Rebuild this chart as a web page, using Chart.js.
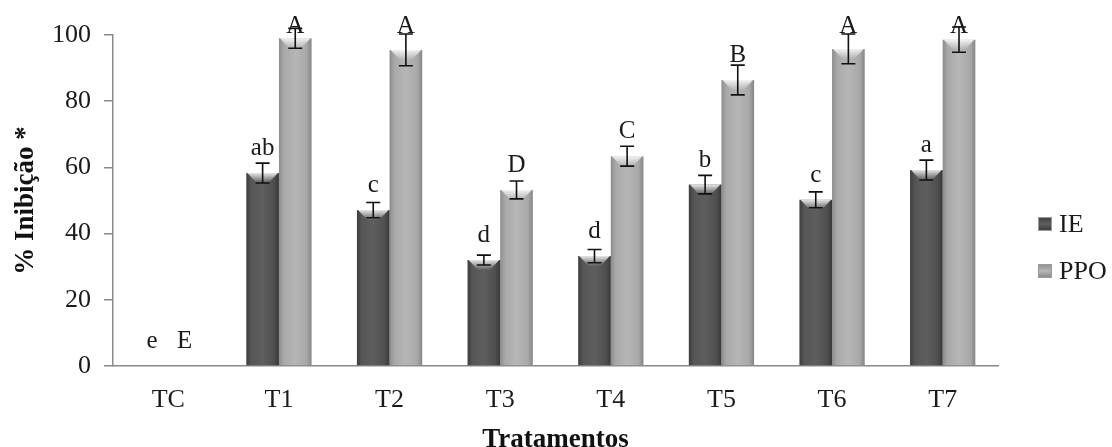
<!DOCTYPE html>
<html>
<head>
<meta charset="utf-8">
<script src="https://cdn.jsdelivr.net/npm/chart.js@4.4.1/dist/chart.umd.min.js"></script>
<style>
  html, body { margin: 0; padding: 0; background: #ffffff; }
  #wrap { width: 1112px; height: 447px; }
</style>
</head>
<body>
<div id="wrap"><canvas id="c" width="1112" height="447"></canvas></div>
<script>
// ---- data ----
const categories = ['TC', 'T1', 'T2', 'T3', 'T4', 'T5', 'T6', 'T7'];
const ieValues  = [0, 58.3, 47.1, 32.0, 33.2, 54.8, 50.2, 59.2];
const ieErrors  = [0, 3.0, 2.3, 1.5, 2.0, 2.8, 2.4, 3.0];
const ieLetters = ['e', 'ab', 'c', 'd', 'd', 'b', 'c', 'a'];
const ppoValues  = [0, 99.0, 95.5, 53.2, 63.4, 86.4, 95.8, 98.6];
const ppoErrors  = [0, 3.0, 4.8, 2.7, 3.0, 4.5, 4.5, 3.8];
const ppoLetters = ['E', 'A', 'A', 'D', 'C', 'B', 'A', 'A'];
const yTicks = [0, 20, 40, 60, 80, 100];
const seriesNames = ['IE', 'PPO'];
const xTitle = 'Tratamentos';
const yTitle = '% Inibição *';

const SERIF = '"Liberation Serif", "DejaVu Serif", serif';
const CAT_PCT = 0.59;
const palettes = [
  ['#3d3d3d', '#565656', '#5e5e5e', '#4f4f4f', '#383838'],
  ['#8c8c8c', '#a9a9a9', '#b6b6b6', '#a8a8a8', '#858585']
];

function barFill(ctx) {
  const chart = ctx.chart;
  const area = chart.chartArea;
  const pal = palettes[ctx.datasetIndex];
  if (!area || ctx.type !== 'data') return pal[2];
  const xs = chart.scales.x;
  const catW = (area.right - area.left) / categories.length;
  const barW = catW * CAT_PCT / 2;
  const center = xs.getPixelForValue(ctx.dataIndex);
  const x0 = center - catW * CAT_PCT / 2 + ctx.datasetIndex * barW;
  const g = chart.ctx.createLinearGradient(x0, 0, x0 + barW, 0);
  g.addColorStop(0, pal[0]);
  g.addColorStop(0.15, pal[1]);
  g.addColorStop(0.5, pal[2]);
  g.addColorStop(0.85, pal[3]);
  g.addColorStop(1, pal[4]);
  return g;
}

const errorBarsPlugin = {
  id: 'errorBarsLetters',
  afterDatasetsDraw(chart) {
    const c = chart.ctx;
    const ys = chart.scales.y;
    const errs = [ieErrors, ppoErrors];
    const letters = [ieLetters, ppoLetters];
    chart.data.datasets.forEach((ds, di) => {
      const meta = chart.getDatasetMeta(di);
      meta.data.forEach((bar, i) => {
        const v = ds.data[i];
        const e = errs[di][i];
        if (v > 0) {
          const top = ys.getPixelForValue(v);
          const w = bar.width;
          const l = bar.x - w / 2;
          c.save();
          const hg = c.createLinearGradient(0, top, 0, top + 10);
          hg.addColorStop(0, 'rgba(255,255,255,0.85)');
          hg.addColorStop(1, 'rgba(255,255,255,0)');
          c.fillStyle = hg;
          c.beginPath();
          c.moveTo(l + 1, top);
          c.lineTo(l + w - 1, top);
          c.lineTo(bar.x + w * 0.18, top + 10);
          c.lineTo(bar.x - w * 0.18, top + 10);
          c.closePath();
          c.fill();
          c.restore();
        }
        if (e > 0) {
          const yHi = ys.getPixelForValue(v + e);
          const yLo = ys.getPixelForValue(v - e);
          c.save();
          c.strokeStyle = '#111';
          c.lineWidth = 1.6;
          c.beginPath();
          c.moveTo(bar.x, yHi); c.lineTo(bar.x, yLo);
          c.moveTo(bar.x - 7, yHi); c.lineTo(bar.x + 7, yHi);
          c.moveTo(bar.x - 7, yLo); c.lineTo(bar.x + 7, yLo);
          c.stroke();
          c.restore();
        }
        const base = Math.max(ys.getPixelForValue(v) - 18, 33);
        c.save();
        c.fillStyle = '#1a1a1a';
        c.font = '25px ' + SERIF;
        c.textAlign = 'center';
        c.textBaseline = 'alphabetic';
        c.fillText(letters[di][i], bar.x, base);
        c.restore();
      });
    });
  }
};

const legendPlugin = {
  id: 'sideLegend',
  afterDraw(chart) {
    const c = chart.ctx;
    const area = chart.chartArea;
    const x = area.right + 40;
    const yCenter = (area.top + area.bottom) / 2 + 47;
    const gap = 47;
    chart.data.datasets.forEach((ds, di) => {
      const y = yCenter - gap / 2 + di * gap;
      const pal = palettes[di];
      c.save();
      const g = c.createLinearGradient(x, y - 7, x, y + 7);
      g.addColorStop(0, pal[0]);
      g.addColorStop(0.5, pal[2]);
      g.addColorStop(1, pal[4]);
      c.fillStyle = g;
      c.fillRect(x, y - 7, 14, 14);
      c.strokeStyle = '#9a9a9a';
      c.lineWidth = 1;
      c.strokeRect(x + 0.5, y - 6.5, 13, 13);
      c.fillStyle = '#1a1a1a';
      c.font = '26px ' + SERIF;
      c.textAlign = 'left';
      c.textBaseline = 'middle';
      c.fillText(ds.label, x + 21, y + 1);
      c.restore();
    });
  }
};

new Chart(document.getElementById('c'), {
  type: 'bar',
  data: {
    labels: categories,
    datasets: [
      { label: seriesNames[0], data: ieValues, backgroundColor: barFill, borderWidth: 0 },
      { label: seriesNames[1], data: ppoValues, backgroundColor: barFill, borderWidth: 0 }
    ]
  },
  options: {
    responsive: false,
    animation: false,
    events: [],
    layout: { padding: { left: 0, top: 35, right: 114, bottom: 0 } },
    datasets: { bar: { categoryPercentage: CAT_PCT, barPercentage: 1.0 } },
    plugins: { legend: { display: false }, tooltip: { enabled: false } },
    scales: {
      x: {
        grid: { display: false },
        border: { display: true, color: '#8a8a8a', width: 1.5 },
        ticks: { color: '#1a1a1a', font: { family: SERIF, size: 26 }, padding: 11, maxRotation: 0 },
        title: { display: true, text: xTitle, color: '#111', font: { family: SERIF, size: 27, weight: 'bold' }, padding: { top: 4, bottom: -9 } },
        afterFit(scale) { scale.height = 81; }
      },
      y: {
        min: 0, max: 100,
        afterBuildTicks(scale) { scale.ticks = yTicks.map(v => ({ value: v })); },
        grid: { display: true, drawOnChartArea: false, drawTicks: true, tickLength: 9, color: '#8a8a8a', lineWidth: 1.5 },
        border: { display: true, color: '#8a8a8a', width: 1.5 },
        ticks: { color: '#1a1a1a', font: { family: SERIF, size: 26 }, padding: 13 },
        title: { display: true, text: yTitle, color: '#111', font: { family: SERIF, size: 27, weight: 'bold' }, padding: { top: 10, bottom: 4 } },
        afterFit(scale) { scale.width = 113; }
      }
    }
  },
  plugins: [errorBarsPlugin, legendPlugin]
});
</script>
</body>
</html>
